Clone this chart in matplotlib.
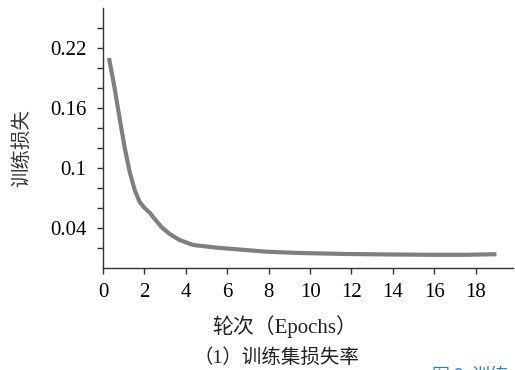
import matplotlib
matplotlib.use("Agg")
import matplotlib.pyplot as plt

epochs = [0.29, 0.56, 0.80, 1.05, 1.29, 1.53, 1.77, 2.01, 2.27, 2.42, 2.82, 3.22, 3.70,
          4.36, 5.49, 6.45, 7.9, 9.5, 11.8, 14.0, 16.0, 17.5, 19.0]
loss = [0.210, 0.180, 0.150, 0.120, 0.096, 0.078, 0.066, 0.060, 0.055, 0.051, 0.041, 0.034, 0.028,
        0.023, 0.0203, 0.0187, 0.0163, 0.015, 0.014, 0.0135, 0.0132, 0.0132, 0.0138]

xticks = [0, 2, 4, 6, 8, 10, 12, 14, 16, 18]
yticks_major = [0.04, 0.1, 0.16, 0.22]
ytick_labels = ["0.04", "0.1", "0.16", "0.22"]
yticks_minor = [0.02, 0.06, 0.08, 0.12, 0.14, 0.18, 0.2, 0.24]

W, H = 515, 370
fig = plt.figure(figsize=(W / 100, H / 100), dpi=100)
ax = fig.add_axes([103 / W, (H - 268) / H, (513 - 103) / W, (268 - 8) / H])

ax.plot(epochs, loss, color="#7f7f7f", lw=3.0, solid_capstyle="butt", solid_joinstyle="round")

ax.set_xlim(0, 19.8)
ax.set_ylim(0, 0.26)
for s in ["top", "right"]:
    ax.spines[s].set_visible(False)
for s in ["left", "bottom"]:
    ax.spines[s].set_color("#333333")
    ax.spines[s].set_linewidth(1.0)

serif = ["Liberation Serif", "Noto Sans CJK SC"]
ax.set_xticks(xticks)
ax.set_xticklabels([str(t) for t in xticks], family=serif, fontsize=15)
ax.set_yticks(yticks_major)
ax.set_yticklabels(ytick_labels, family=serif, fontsize=15)
ax.set_yticks(yticks_minor, minor=True)
ax.tick_params(axis="both", which="both", direction="out", length=4, width=1, color="#333333")
ax.tick_params(axis="x", pad=7)
ax.tick_params(axis="y", pad=8)

fig.text(22 / W, 1 - 148 / H, "训练损失", rotation=90, ha="center", va="center",
         family=["Noto Sans CJK SC"], fontsize=14, color="#333333")
fig.text(285 / W, 1 - 327 / H, "轮次（Epochs）", ha="center", va="center",
         family=serif, fontsize=15, color="#222222")
fig.text(276 / W, 1 - 357 / H, "（1）训练集损失率", ha="center", va="center",
         family=serif, fontsize=14, color="#222222")
fig.text(432 / W, 1 - 367 / H, "图 2  训练", ha="left", va="top",
         family=["Noto Sans CJK SC"], fontsize=13, color="#2a7fd4")

fig.savefig("out.png", dpi=100)
